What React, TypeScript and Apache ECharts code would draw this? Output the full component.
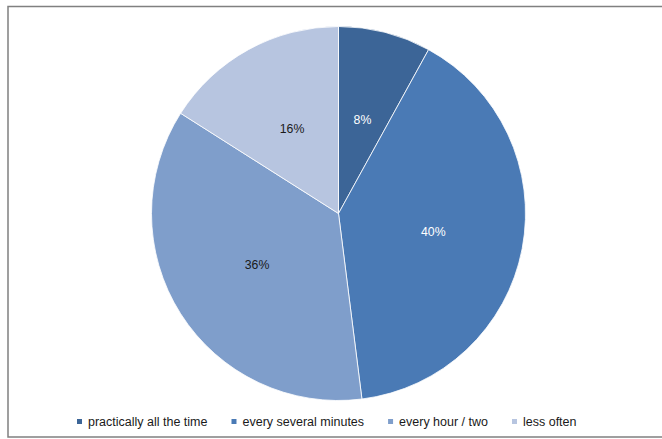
import React, { useEffect, useRef } from "react";
import * as echarts from "echarts";

const categories = [
  "practically all the time",
  "every several minutes",
  "every hour / two",
  "less often",
];
const shares = [8, 40, 36, 16];
const sliceColors = ["#3C6597", "#4A7AB5", "#7F9ECB", "#B7C5E0"];
const labelColors = ["#FFFFFF", "#FFFFFF", "#1A1A1A", "#1A1A1A"];

const FONT = "'Liberation Sans', Arial, sans-serif";

export default function App() {
  const ref = useRef<HTMLDivElement>(null);

  useEffect(() => {
    if (!ref.current) return;
    const chart = echarts.init(ref.current, undefined, { renderer: "svg" });

    const data = categories.map((name, i) => ({
      name,
      value: shares[i],
      itemStyle: { color: sliceColors[i] },
      label: { color: labelColors[i] },
    }));

    chart.setOption({
      animation: false,
      backgroundColor: "#FFFFFF",
      graphic: [
        {
          type: "rect",
          shape: { x: 8, y: 6.5, width: 700, height: 430.5 },
          style: { fill: "none", stroke: "#808080", lineWidth: 1.5 },
          silent: true,
        },
      ],
      legend: {
        data: categories,
        left: 75,
        top: 415,
        padding: 0,
        orient: "horizontal",
        icon: "rect",
        itemWidth: 7,
        itemHeight: 7,
        itemGap: 22,
        textStyle: { fontFamily: FONT, fontSize: 12.5, color: "#1A1A1A" },
        selectedMode: false,
      },
      series: [
        {
          type: "pie",
          center: [338.5, 213.5],
          radius: [0, 187],
          startAngle: 90,
          clockwise: true,
          data,
          itemStyle: { borderColor: "#FFFFFF", borderWidth: 0.8 },
          label: {
            show: true,
            position: "inside",
            formatter: "{c}%",
            fontFamily: FONT,
            fontSize: 12.3,
          },
          labelLine: { show: false },
          emphasis: { disabled: true },
        },
      ],
    });

    return () => chart.dispose();
  }, []);

  return (
    <div
      ref={ref}
      style={{ position: "fixed", left: 0, top: 0, width: 662, height: 439 }}
    />
  );
}
